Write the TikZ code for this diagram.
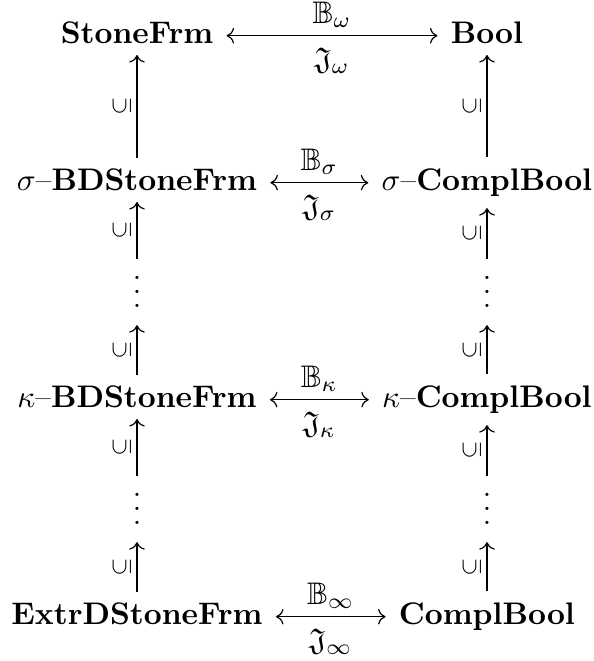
\documentclass[tikz,border=0pt]{standalone}
\usepackage{amssymb}
\usepackage{graphicx}
\usetikzlibrary{arrows.meta}

% three stacked dots, a little looser than \vdots
\newcommand\dotstack{\vbox{\baselineskip=4.6pt\lineskiplimit=-10pt\hbox{.}\hbox{.}\hbox{.}}}
% inclusion sign turned upright
\newcommand\inclsign{\rotatebox{90}{$\subseteq$}}

\begin{document}
\begin{tikzpicture}[x=0.3333pt, y=-0.3333pt,
  cell/.style={anchor=base, scale=1.04, inner xsep=4.1pt, inner ysep=3.5pt},
  dotcell/.style={inner sep=0pt, minimum height=21.7pt, minimum width=2pt},
  map/.style={-{Computer Modern Rightarrow}},
  iso/.style={{Computer Modern Rightarrow}-{Computer Modern Rightarrow}},
  labup/.style={midway, above, scale=1.04, inner sep=2.3pt},
  labdown/.style={midway, below, scale=1.04, inner sep=3.6pt},
  incl/.style={midway, left, inner sep=1.8pt, font=\scriptsize}
]
\useasboundingbox (0,0) rectangle (594,661);

% objects, two columns
\node[cell] (sf)  at (137,43.5)  {$\mathbf{StoneFrm}$};
\node[cell] (bo)  at (487,43.5)  {$\mathbf{Bool}$};
\node[cell] (sbd) at (137,190.5) {$\sigma$--$\mathbf{BDStoneFrm}$};
\node[cell] (scb) at (487,190.5) {$\sigma$--$\mathbf{ComplBool}$};
\node[dotcell] (d1l) at (137,292) {\dotstack};
\node[dotcell] (d1r) at (487,292) {\dotstack};
\node[cell] (kbd) at (137,407.5) {$\kappa$--$\mathbf{BDStoneFrm}$};
\node[cell] (kcb) at (487,407.5) {$\kappa$--$\mathbf{ComplBool}$};
\node[dotcell] (d2l) at (137,509) {\dotstack};
\node[dotcell] (d2r) at (487,509) {\dotstack};
\node[cell] (ex)  at (137,624.5) {$\mathbf{ExtrDStoneFrm}$};
\node[cell] (cb)  at (487,624.5) {$\mathbf{ComplBool}$};

% equivalences between the columns
\draw[iso] ([yshift=2.6pt]sf.base east) --
  node[labup] {$\mathbb{B}_\omega$}
  node[labdown] {$\mathfrak{J}_\omega$} ([yshift=2.6pt]bo.base west);
\draw[iso] ([yshift=2.6pt]sbd.base east) --
  node[labup] {$\mathbb{B}_\sigma$}
  node[labdown] {$\mathfrak{J}_\sigma$} ([yshift=2.6pt]scb.base west);
\draw[iso] ([yshift=2.6pt]kbd.base east) --
  node[labup] {$\mathbb{B}_\kappa$}
  node[labdown] {$\mathfrak{J}_\kappa$} ([yshift=2.6pt]kcb.base west);
\draw[iso] ([yshift=2.6pt]ex.base east) --
  node[labup] {$\mathbb{B}_\infty$}
  node[labdown] {$\mathfrak{J}_\infty$} ([yshift=2.6pt]cb.base west);

% inclusions, left column
\draw[map] (sbd.north) -- node[incl] {\inclsign} (sf.south);
\draw[map] (d1l.north) -- node[incl] {\inclsign} (sbd.south);
\draw[map] (kbd.north) -- node[incl] {\inclsign} (d1l.south);
\draw[map] (d2l.north) -- node[incl] {\inclsign} (kbd.south);
\draw[map] (ex.north)  -- node[incl] {\inclsign} (d2l.south);

% inclusions, right column
\draw[map] (scb.north) -- node[incl] {\inclsign} (bo.south);
\draw[map] (d1r.north) -- node[incl] {\inclsign} (scb.south);
\draw[map] (kcb.north) -- node[incl] {\inclsign} (d1r.south);
\draw[map] (d2r.north) -- node[incl] {\inclsign} (kcb.south);
\draw[map] (cb.north)  -- node[incl] {\inclsign} (d2r.south);
\end{tikzpicture}
\end{document}
